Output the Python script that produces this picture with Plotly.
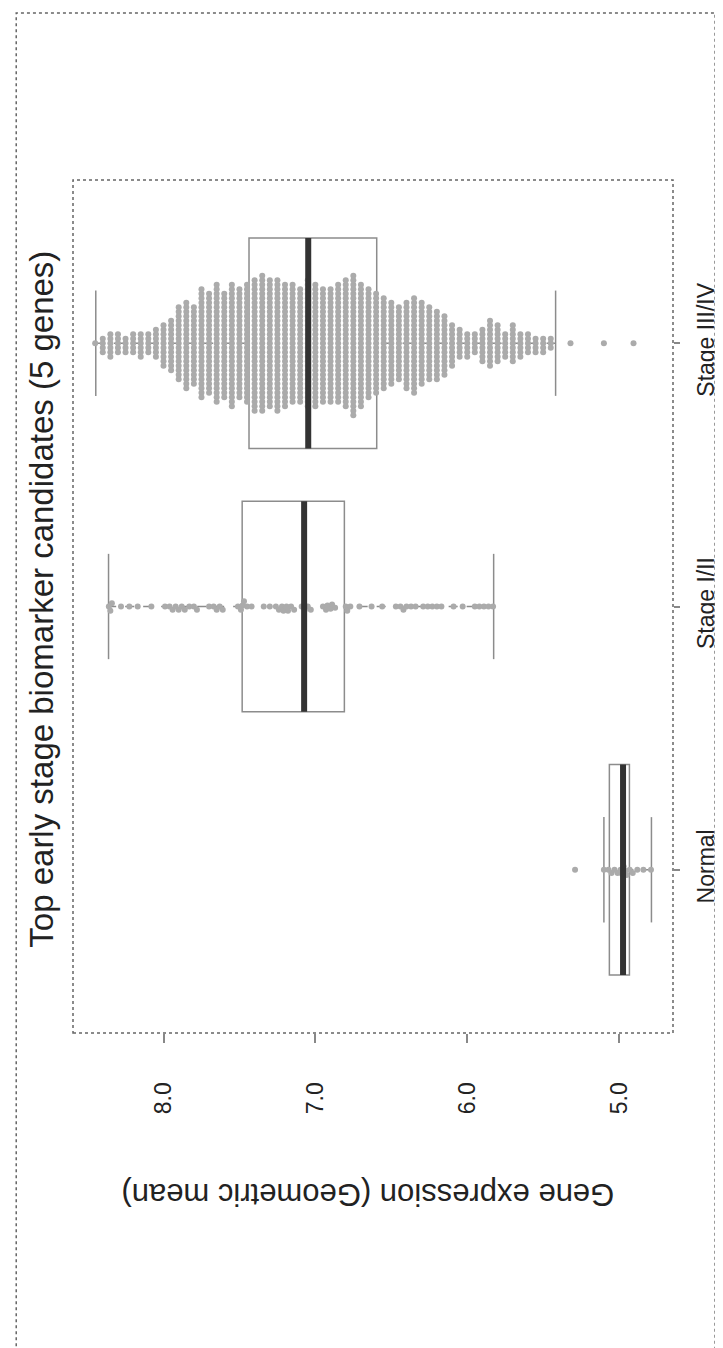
import plotly.graph_objects as go

# ---------------- data ----------------
categories = ["Normal", "Stage I/II", "Stage III/IV"]
cat_pos = [0, 1, 2]

q1 = [4.932, 6.809, 6.596]
median = [4.974, 7.074, 7.047]
q3 = [5.064, 7.482, 7.437]
lower_whisker = [4.787, 5.826, 5.418]
upper_whisker = [5.100, 8.362, 8.446]

normal_values = [5.29, 5.10, 5.07, 5.05, 5.03, 5.01, 4.99, 4.98, 4.97, 4.96,
                 4.95, 4.93, 4.91, 4.88, 4.84, 4.79]

stage12_values = [8.36, 8.35, 8.34, 8.28, 8.225, 8.17, 8.08,
                  7.99, 7.96, 7.94, 7.92, 7.90, 7.88, 7.86, 7.83, 7.80, 7.78,
                  7.70, 7.67, 7.65, 7.63, 7.61,
                  7.51, 7.49, 7.48, 7.47, 7.45, 7.42, 7.34, 7.30,
                  7.26, 7.24, 7.22, 7.21, 7.19, 7.18, 7.16, 7.14,
                  7.09, 7.07, 7.05, 7.03,
                  6.95, 6.93, 6.92, 6.90, 6.89, 6.87, 6.80, 6.79, 6.77,
                  6.71, 6.63, 6.56,
                  6.47, 6.44, 6.42, 6.40, 6.37, 6.34,
                  6.29, 6.26, 6.23, 6.20, 6.17, 6.09, 6.03,
                  5.95, 5.92, 5.89, 5.86, 5.83]

# Stage III/IV swarm: value of each swarm column and number of points in it
stage34_col_values = [8.45, 8.40, 8.35, 8.30, 8.25, 8.20, 8.15, 8.10, 8.05, 8.00,
                      7.95, 7.90, 7.85, 7.80, 7.75, 7.70, 7.65, 7.60, 7.55, 7.50,
                      7.45, 7.40, 7.35, 7.30, 7.25, 7.20, 7.15, 7.10, 7.05, 7.00,
                      6.95, 6.90, 6.85, 6.80, 6.75, 6.70, 6.65, 6.60, 6.55, 6.50,
                      6.45, 6.40, 6.35, 6.30, 6.25, 6.20, 6.15, 6.10, 6.05, 6.00,
                      5.95, 5.90, 5.85, 5.80, 5.75, 5.70, 5.65, 5.60, 5.55, 5.50,
                      5.45]
stage34_col_counts = [1, 4, 6, 5, 4, 5, 6, 5, 7, 10,
                      12, 17, 20, 18, 25, 23, 27, 24, 28, 25,
                      27, 30, 31, 29, 30, 28, 27, 26, 29, 28,
                      26, 26, 27, 29, 32, 28, 25, 23, 21, 19,
                      17, 20, 22, 19, 17, 16, 14, 10, 7, 6,
                      5, 8, 11, 9, 6, 9, 6, 5, 4, 4,
                      3]
stage34_outliers = [5.32, 5.10, 4.905]

value_ticks = [5, 6, 7, 8]
value_tick_labels = ["5.0", "6.0", "7.0", "8.0"]

# ---------------- layout geometry ----------------
W, H = 723, 1348
ML, MR, MT, MB = 65, 45, 172, 323
PW, PH = W - ML - MR, H - MT - MB
XR = [8.596, 4.645]
YR = [-0.62, 2.62]
px_per_val = PW / abs(XR[0] - XR[1])
px_per_cat = PH / (YR[1] - YR[0])
BOX_W = 0.8
STAPLE = 0.2


def swarm(values, d_px):
    """simple beeswarm: returns (values, offsets in category units)"""
    placed = []
    xs, offs = [], []
    for v in sorted(values, reverse=True):
        x = v * px_per_val
        blocked = []
        for px, py in placed:
            dx = abs(px - x)
            if dx < d_px:
                h = (d_px ** 2 - dx ** 2) ** 0.5
                blocked.append((py - h, py + h))
        cands = [0.0] + [b for iv in blocked for b in iv]
        cands.sort(key=lambda c: (abs(c), c))
        y = 0.0
        for c in cands:
            if all(not (lo + 1e-6 < c < hi - 1e-6) for lo, hi in blocked):
                y = c
                break
        placed.append((x, y))
        xs.append(v)
        offs.append(y / px_per_cat)
    return xs, offs


stage34_values = []
for v, n in zip(stage34_col_values, stage34_col_counts):
    stage34_values += [v] * n
stage34_values += stage34_outliers

groups = [normal_values, stage12_values, stage34_values]

fig = go.Figure()

# box (whiskers drawn separately as dashed lines, R style)
fig.add_trace(go.Box(
    y=cat_pos, q1=q1, median=median, q3=q3,
    lowerfence=q1, upperfence=q3,
    orientation="h", width=BOX_W, whiskerwidth=0, boxpoints=False,
    line=dict(color="#8c8c8c", width=1.5), fillcolor="rgba(0,0,0,0)",
    showlegend=False, hoverinfo="skip"))

wx, wy, sx, sy = [], [], [], []
for pos, lo, a, b, hi in zip(cat_pos, lower_whisker, q1, q3, upper_whisker):
    wx += [lo, a, None, b, hi, None]
    wy += [pos, pos, None, pos, pos, None]
    sx += [lo, lo, None, hi, hi, None]
    sy += [pos - STAPLE, pos + STAPLE, None, pos - STAPLE, pos + STAPLE, None]
fig.add_trace(go.Scatter(x=wx, y=wy, mode="lines",
                         line=dict(color="#8c8c8c", width=1.5, dash="dash"),
                         showlegend=False, hoverinfo="skip"))
fig.add_trace(go.Scatter(x=sx, y=sy, mode="lines",
                         line=dict(color="#8c8c8c", width=1.5),
                         showlegend=False, hoverinfo="skip"))

for pos, vals in zip(cat_pos, groups):
    xs, offs = swarm(vals, 4.5)
    fig.add_trace(go.Scatter(
        x=xs, y=[pos + o for o in offs], mode="markers",
        marker=dict(size=6, color="#ababab", line=dict(width=0)),
        showlegend=False, hoverinfo="skip"))

mx, my = [], []
for pos, m in zip(cat_pos, median):
    mx += [m, m, None]
    my += [pos - BOX_W / 2, pos + BOX_W / 2, None]
fig.add_trace(go.Scatter(x=mx, y=my, mode="lines",
                         line=dict(color="#333333", width=6),
                         showlegend=False, hoverinfo="skip"))

font_family = "Liberation Sans, Arial, sans-serif"

fig.update_layout(
    width=W, height=H,
    margin=dict(l=ML, r=MR, t=MT, b=MB),
    paper_bgcolor="white", plot_bgcolor="white",
    font=dict(family=font_family, color="#222222"),
    xaxis=dict(range=XR, tickvals=value_ticks, ticktext=value_tick_labels,
               ticks="outside", ticklen=9, tickcolor="#888888", tickwidth=1.5,
               tickangle=-90, tickfont=dict(size=23), ticklabelstandoff=30,
               showgrid=False, zeroline=False, showline=False),
    yaxis=dict(range=YR, tickvals=cat_pos, ticktext=categories, side="right",
               ticks="outside", ticklen=6, tickcolor="#888888", tickwidth=1.5,
               tickangle=-90, tickfont=dict(size=23), ticklabelstandoff=6,
               showgrid=False, zeroline=False, showline=False),
    shapes=[
        dict(type="rect", xref="paper", yref="paper", x0=0, x1=1, y0=0, y1=1,
             line=dict(color="#666666", width=1.5, dash="dot")),
        dict(type="rect", xref="paper", yref="paper",
             x0=(7 - ML) / PW, x1=(721 - ML) / PW,
             y0=(MT + PH - 1345) / PH, y1=(MT + PH - 5) / PH,
             line=dict(color="#666666", width=1.5, dash="dot")),
    ],
    annotations=[
        dict(text="Top early stage biomarker candidates (5 genes)",
             xref="paper", yref="paper", x=(32 - ML) / PW, y=(MT + PH - 591) / PH,
             textangle=-90, showarrow=False, font=dict(size=33),
             xanchor="center", yanchor="middle"),
        dict(text="Gene expression (Geometric mean)",
             xref="paper", yref="paper", x=(366 - ML) / PW, y=(MT + PH - 1187) / PH,
             textangle=180, showarrow=False, font=dict(size=31),
             xanchor="center", yanchor="middle"),
    ],
)

fig.write_html("out.html")
